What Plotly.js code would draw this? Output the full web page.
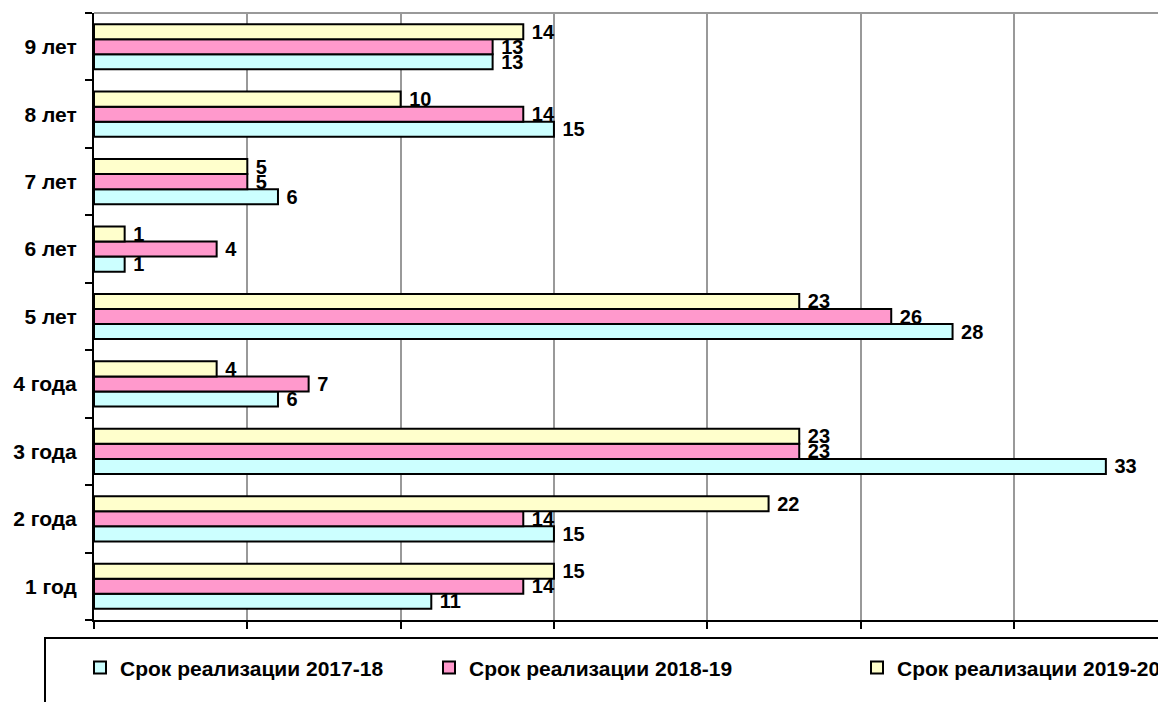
<!DOCTYPE html>
<html>
<head>
<meta charset="utf-8">
<script src="https://cdn.plot.ly/plotly-3.0.1.min.js"></script>
<style>html,body{margin:0;padding:0;background:#fff;}#chart{width:1158px;height:702px;}</style>
</head>
<body>
<div id="chart"></div>
<script>
const categories = ["1 год", "2 года", "3 года", "4 года", "5 лет", "6 лет", "7 лет", "8 лет", "9 лет"];
const seriesNames = ["Срок реализации 2017-18", "Срок реализации 2018-19", "Срок реализации 2019-20"];
const values2017 = [11, 15, 33, 6, 28, 1, 6, 15, 13];
const values2018 = [14, 14, 23, 7, 26, 4, 5, 14, 13];
const values2019 = [15, 22, 23, 4, 23, 1, 5, 10, 14];
const colors = ["#CCFFFF", "#FF99CC", "#FFFFCC"];

const FONT = "Liberation Sans, Arial, sans-serif";
const allValues = [values2017, values2018, values2019];
const legendIds = ["legend", "legend2", "legend3"];

const traces = allValues.map((vals, i) => ({
  type: "bar",
  orientation: "h",
  name: seriesNames[i],
  y: categories,
  x: vals,
  texttemplate: " %{x}",
  textposition: "outside",
  constraintext: "none",
  cliponaxis: false,
  textfont: {family: FONT, size: 20, color: "#000", weight: "bold"},
  marker: {color: colors[i], line: {color: "#000", width: 2}},
  legend: legendIds[i],
  hoverinfo: "x+y"
}));

const legendX = [ (80 - 94) / 1064, (429 - 94) / 1064, (857 - 94) / 1064 ];
const legendBase = {
  orientation: "h",
  yanchor: "middle",
  y: -0.079,
  xanchor: "left",
  font: {family: FONT, size: 21, color: "#000", weight: "bold"},
  bgcolor: "rgba(0,0,0,0)",
  borderwidth: 0,
  itemwidth: 30
};

const layout = {
  width: 1158,
  height: 702,
  margin: {l: 94, r: 0, t: 13, b: 82, autoexpand: false},
  paper_bgcolor: "#fff",
  plot_bgcolor: "#fff",
  barmode: "group",
  bargap: 0.33,
  bargroupgap: 0,
  showlegend: true,
  font: {family: FONT, size: 20, color: "#000"},
  xaxis: {
    range: [0, 34.7],
    dtick: 5,
    tick0: 0,
    showticklabels: false,
    ticks: "outside",
    ticklen: 7,
    tickwidth: 2,
    tickcolor: "#000",
    showgrid: true,
    gridcolor: "#999",
    gridwidth: 2,
    showline: true,
    linecolor: "#000",
    linewidth: 2,
    zeroline: false,
    fixedrange: true
  },
  yaxis: {
    type: "category",
    tickson: "boundaries",
    ticks: "outside",
    ticklen: 7,
    tickwidth: 2,
    tickcolor: "#000",
    showgrid: false,
    showline: true,
    linecolor: "#000",
    linewidth: 2,
    zeroline: false,
    tickfont: {family: FONT, size: 21, color: "#000", weight: "bold"},
    ticklabelstandoff: 11,
    fixedrange: true
  },
  legend: Object.assign({}, legendBase, {x: legendX[0]}),
  legend2: Object.assign({}, legendBase, {x: legendX[1]}),
  legend3: Object.assign({}, legendBase, {x: legendX[2]}),
  shapes: [
    {type: "line", xref: "paper", yref: "paper", x0: 0, x1: 1, y0: 1, y1: 1,
     line: {color: "#999", width: 2}},
    {type: "rect", xref: "paper", yref: "paper", x0: (45 - 94) / 1064, x1: 1.05, y0: (620 - 638) / 607, y1: -0.25,
     line: {color: "#000", width: 2}, fillcolor: "rgba(0,0,0,0)", layer: "below"}
  ]
};

Plotly.newPlot("chart", traces, layout, {displayModeBar: false, staticPlot: true});
</script>
</body>
</html>
